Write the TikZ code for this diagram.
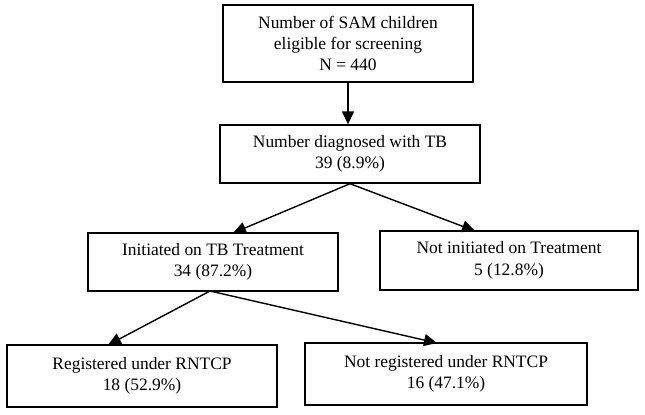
\documentclass[tikz,border=0pt]{standalone}
\usepackage{fontspec}
\setmainfont{Liberation Serif}
\usetikzlibrary{arrows.meta}
\begin{document}
\begin{tikzpicture}[x=1bp,y=-1bp,
  box/.style={draw, line width=1.4bp, align=center, inner sep=0pt,
    font=\fontsize{17.5}{21.5}\selectfont},
  arr/.style={line width=1.4bp, -{Triangle[length=13bp,width=12bp]}}]
\useasboundingbox (0,0) rectangle (645,414);
\node[box, minimum width=250bp, minimum height=77bp] (top) at (348,43.5) {Number of SAM children\\eligible for screening\\N = 440};
\node[box, minimum width=260bp, minimum height=58bp] (tb) at (350,154) {Number diagnosed with TB\\39 (8.9\%)};
\node[box, minimum width=250bp, minimum height=58bp] (init) at (213,262) {Initiated on TB Treatment\\34 (87.2\%)};
\node[box, minimum width=258bp, minimum height=59bp] (notinit) at (509,260.5) {Not initiated on Treatment\\5 (12.8\%)};
\node[box, minimum width=270bp, minimum height=62bp] (reg) at (142,376) {Registered under RNTCP\\18 (52.9\%)};
\node[box, minimum width=282bp, minimum height=62bp] (notreg) at (446,374) {Not registered under RNTCP\\16 (47.1\%)};
\coordinate (a1) at (233,233);
\coordinate (a2) at (475,231);
\coordinate (b0) at (210,291);
\coordinate (b1) at (108,345);
\coordinate (b2) at (437,343);
\draw[arr] (top.south) -- (top.south |- tb.north);
\draw[arr] (tb.south) -- (a1);
\draw[arr] (tb.south) -- (a2);
\draw[arr] (b0) -- (b1);
\draw[arr] (b0) -- (b2);
\end{tikzpicture}
\end{document}
